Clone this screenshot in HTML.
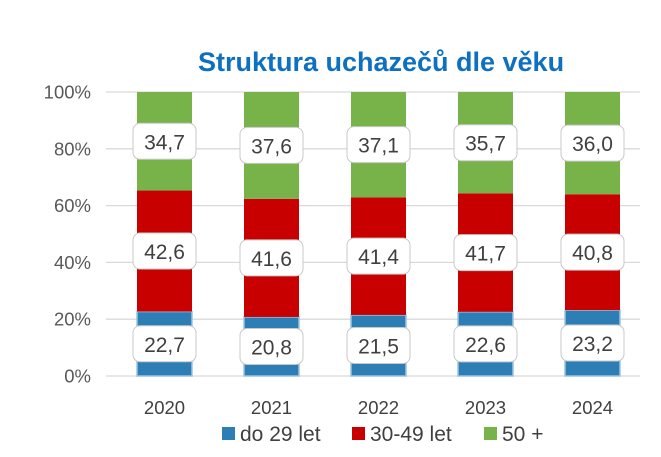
<!DOCTYPE html>
<html><head><meta charset="utf-8"><style>
body{margin:0;background:#fff;}
svg{display:block;font-family:"Liberation Sans",sans-serif;}
</style></head><body>
<svg id="s" width="661" height="457" xmlns="http://www.w3.org/2000/svg">
<text x="381" y="71" text-anchor="middle" font-size="27" font-weight="bold" fill="#0E70C0">Struktura uchazečů dle věku</text>
<g id="g"></g>
</svg>
<script>
var g=document.getElementById('g'),h='';
var y0=376,H=284;
for(var i=0;i<=5;i++){var y=y0-i*H/5;h+='<line x1="106" x2="640" y1="'+y+'" y2="'+y+'" stroke="#d9d9d9" stroke-width="1.3"/>';
h+='<text x="91" y="'+(y+6.5)+'" text-anchor="end" font-size="18.5" fill="#595959">'+(i*20)+'%</text>';}
var d=[[22.7,42.6,34.7],[20.8,41.6,37.6],[21.5,41.4,37.1],[22.6,41.7,35.7],[23.2,40.8,36.0]];
var yrs=[2020,2021,2022,2023,2024],cols=['#2E7EB6','#C80000','#77B348'];
d.forEach(function(r,k){var cx=164.5+k*107,s=r[0]+r[1]+r[2],y=y0;
var segs=[];
r.forEach(function(v,j){var hh=v/s*H;segs.push([y-hh,hh]);
h+='<rect x="'+(cx-27.5)+'" y="'+(y-hh)+'" width="55" height="'+hh+'" fill="'+cols[j]+'"'+(j==0?' stroke="#9cc3e0" stroke-width="1.5"':'')+'/>';y-=hh;});
segs.forEach(function(sg,j){var my=sg[0]+sg[1]/2;
h+='<rect x="'+(cx-31.5)+'" y="'+(my-18)+'" width="63" height="36" rx="7" fill="#fff" stroke="#c8c8c8" stroke-width="1"/>';
h+='<text x="'+cx+'" y="'+(my+8)+'" text-anchor="middle" font-size="21" fill="#404040">'+r[j].toFixed(1).replace('.',',')+'</text>';});
h+='<text x="'+cx+'" y="414" text-anchor="middle" font-size="18.5" fill="#404040">'+yrs[k]+'</text>';
});
var lg=[[228,'do 29 let',cols[0]],[358,'30-49 let',cols[1]],[490,'50 +',cols[2]]];
lg.forEach(function(l){h+='<rect x="'+(l[0]-6)+'" y="427" width="13" height="13" fill="'+l[2]+'"/><text x="'+(l[0]+12)+'" y="441" font-size="21" fill="#404040">'+l[1]+'</text>';});
g.innerHTML=h;
</script>
</body></html>
